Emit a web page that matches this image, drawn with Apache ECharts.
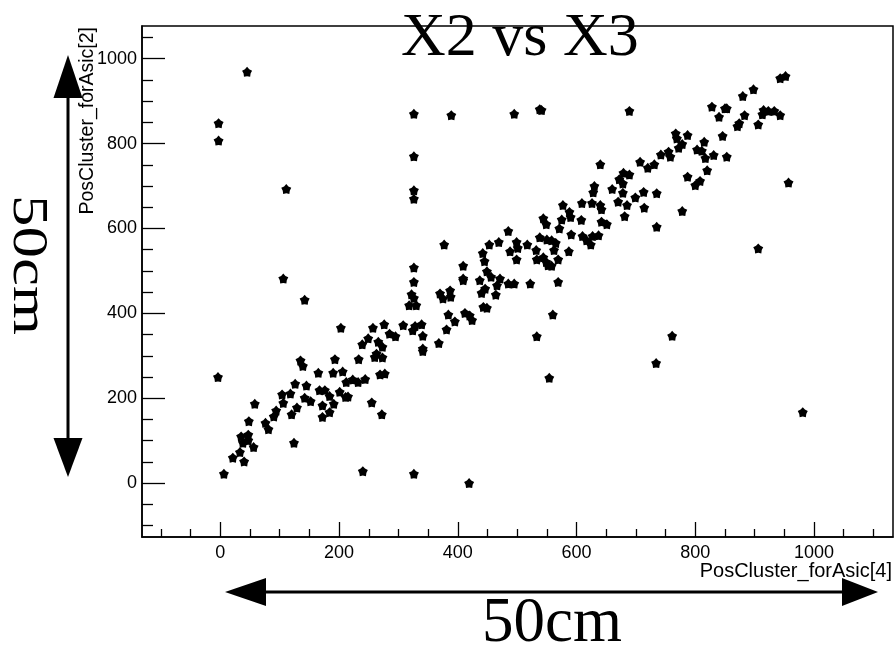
<!DOCTYPE html>
<html>
<head>
<meta charset="utf-8">
<title>X2 vs X3</title>
<script src="https://cdn.jsdelivr.net/npm/echarts@6/dist/echarts.min.js"></script>
<style>
  html, body { margin: 0; padding: 0; background: #fff; }
  #chart { width: 894px; height: 648px; }
</style>
</head>
<body>
<div id="chart"></div>
<script>
// Cluster positions: ASIC 4 (horizontal) against ASIC 2 (vertical)
const posX4 = [
  45, -3, -3, 111, 326, 326, 326, 326,
  389, 495, 541, 538, 689, 767, 769, 787, 778, 772, 742, 755, 758, 803, 787, 800,
  707, 720, 731, 640, 679, 689, 672, 678, 630, 660, 628, 678, 713, 735, 699,
  943, 952, 898, 880, 828, 850, 853, 840, 883, 915, 923, 933, 943, 913, 874, 871, 906,
  846, 815, 811, 817, 831, 853, 820, 808, 957, 906,
  577, 609, 626, 640, 642, 670, 685, 714, 778, 681, 735, 588, 590, 544, 549, 575, 571,
  608, 642, 651, 637, 627, 610, 617, 624, 591, 587, 538, 550, 558, 565, 562, 485, 469,
  453, 499, 501, 488, 517, 532, 499, 533, 544, 549, 552, 558, 569, 442, 445, 409, 377,
  409, 409, 449, 456, 471, 466, 437, 446, 440, 464, 485, 495, 522, 569, 370, 387, 388,
  375, 443, 449, 384, 395, 381, 412, 420, 424, 339, 341, 341, 368, 560, 533, 554, 761, 734,
  326, 326, 322, 326, 318, 330, 328, 324, 308, 341, 106, 142, -4, 203, 257, 276, 285,
  295, 249, 239, 266, 273, 263, 260, 273, 233, 193, 135, 139, 165, 190, 206, 269, 277,
  223, 244,
  6, 21, 40, 33, 35, 47, 38, 47, 56, 48, 58, 76, 81, 90, 94, 104, 106, 118, 120, 129,
  124, 126, 145, 142, 152, 167, 176, 184, 191, 184, 172, 172, 201, 211, 215, 212, 232,
  240, 255, 272, 326,
  419, 981
];
const posY2 = [
  969, 848, 807, 693, 870, 770, 690, 670,
  867, 870, 879, 881, 877, 824, 812, 820, 799, 790, 774, 781, 769, 786, 722, 702,
  757, 743, 751, 751, 731, 727, 716, 706, 700, 693, 685, 684, 686, 683, 673,
  954, 959, 928, 912, 887, 883, 883, 863, 867, 879, 877, 877, 867, 869, 848, 841, 845,
  818, 804, 783, 766, 773, 769, 737, 712, 708, 553,
  655, 660, 660, 655, 645, 663, 655, 649, 641, 629, 604, 639, 627, 624, 610, 621, 600,
  620, 616, 610, 584, 582, 582, 572, 562, 586, 546, 579, 574, 572, 566, 549, 594, 568,
  562, 568, 554, 546, 562, 549, 527, 527, 532, 521, 513, 512, 527, 542, 523, 512, 562,
  482, 478, 499, 486, 482, 466, 478, 458, 448, 444, 470, 470, 470, 474, 447, 454, 439,
  435, 415, 413, 397, 381, 362, 401, 395, 384, 374, 347, 317, 330, 397, 346, 248, 347, 283,
  508, 474, 445, 436, 419, 419, 370, 360, 372, 311, 482, 432, 250, 366, 366, 374, 352,
  346, 341, 327, 333, 321, 305, 297, 296, 292, 292, 289, 276, 260, 260, 263, 256, 258,
  244, 245,
  22, 60, 51, 73, 110, 114, 95, 101, 85, 146, 187, 142, 127, 157, 171, 209, 189, 211, 162, 178,
  95, 234, 230, 201, 193, 219, 219, 205, 187, 167, 156, 183, 215, 203, 204, 238, 238,
  28, 190, 162, 22,
  0, 167
];

// Axis ticks and labels
const xMajorTicks = [0, 200, 400, 600, 800, 1000];
const xMinorTicks = [-100, -50, 50, 100, 150, 250, 300, 350, 450, 500, 550, 650, 700, 750, 850, 900, 950, 1050, 1100];
const yMajorTicks = [0, 200, 400, 600, 800, 1000];
const yMinorTicks = [-100, -50, 50, 100, 150, 250, 300, 350, 450, 500, 550, 650, 700, 750, 850, 900, 950, 1050];

const xTitle = 'PosCluster_forAsic[4]';
const yTitle = 'PosCluster_forAsic[2]';
const lengthNote = '50cm';

const xRange = [-132, 1133];
const yRange = [-127, 1077];

const points = posX4.map((x, i) => [x, posY2[i]]);

const starPath = 'path://M0,-10 L4.11,-5.66 L9.51,-3.09 L6.66,2.16 L5.88,8.09 L0,7 L-5.88,8.09 L-6.66,2.16 L-9.51,-3.09 L-4.11,-5.66 Z';

const labelFont = 'Liberation Sans, Arial, Helvetica, sans-serif';
const serifFont = 'Liberation Serif, Times New Roman, serif';

const chart = echarts.init(document.getElementById('chart'), null, { renderer: 'canvas' });

const plainNumber = v => String(v);

chart.setOption({
  animation: false,
  backgroundColor: '#fff',
  title: {
    text: 'X2 vs X3',
    left: 396,
    top: 3,
    textStyle: { fontFamily: serifFont, fontSize: 62, fontWeight: 'normal', color: '#000' }
  },
  grid: {
    left: 142, top: 26, right: 1, bottom: 111,
    show: true, borderColor: '#000', borderWidth: 1.5, backgroundColor: 'transparent',
    outerBoundsMode: 'none'
  },
  xAxis: [
    {
      type: 'value', min: xRange[0], max: xRange[1], position: 'bottom',
      splitLine: { show: false },
      axisLine: { show: true, onZero: false, lineStyle: { color: '#000', width: 1.5 } },
      axisTick: { show: true, inside: true, length: 15, customValues: xMajorTicks, lineStyle: { color: '#000', width: 1.3 } },
      axisLabel: { show: true, customValues: xMajorTicks, formatter: plainNumber, fontSize: 18, color: '#000', fontFamily: labelFont, margin: 7 }
    },
    {
      type: 'value', min: xRange[0], max: xRange[1], position: 'bottom',
      splitLine: { show: false },
      axisLine: { show: false, onZero: false },
      axisTick: { show: true, inside: true, length: 8, customValues: xMinorTicks, lineStyle: { color: '#000', width: 1.3 } },
      axisLabel: { show: false }
    }
  ],
  yAxis: [
    {
      type: 'value', min: yRange[0], max: yRange[1], position: 'left',
      splitLine: { show: false },
      axisLine: { show: true, onZero: false, lineStyle: { color: '#000', width: 1.5 } },
      axisTick: { show: true, inside: true, length: 23, customValues: yMajorTicks, lineStyle: { color: '#000', width: 1.3 } },
      axisLabel: { show: true, customValues: yMajorTicks, formatter: plainNumber, fontSize: 18, color: '#000', fontFamily: labelFont, margin: 5 }
    },
    {
      type: 'value', min: yRange[0], max: yRange[1], position: 'left',
      splitLine: { show: false },
      axisLine: { show: false, onZero: false },
      axisTick: { show: true, inside: true, length: 11, customValues: yMinorTicks, lineStyle: { color: '#000', width: 1.3 } },
      axisLabel: { show: false }
    }
  ],
  series: [
    {
      type: 'scatter',
      xAxisIndex: 0,
      yAxisIndex: 0,
      data: points,
      symbol: starPath,
      symbolSize: 10,
      itemStyle: { color: '#000', opacity: 1 },
      silent: true
    }
  ],
  graphic: [
    // axis titles, right-aligned to the frame ends
    {
      type: 'text', x: 892, y: 561,
      style: { text: xTitle, font: '20px "Liberation Sans"', fill: '#000', align: 'right', verticalAlign: 'top' }
    },
    {
      type: 'text', x: 88, y: 27, rotation: Math.PI / 2,
      style: { text: yTitle, font: '19.5px "Liberation Sans"', fill: '#000', align: 'right', verticalAlign: 'middle' }
    },
    // vertical double arrow with its length note
    { type: 'line', shape: { x1: 68, y1: 92, x2: 68, y2: 444 }, style: { stroke: '#000', lineWidth: 3 } },
    { type: 'polygon', shape: { points: [[68, 55], [53.5, 98], [82.5, 98]] }, style: { fill: '#000' } },
    { type: 'polygon', shape: { points: [[68, 477], [53.5, 438], [82.5, 438]] }, style: { fill: '#000' } },
    {
      type: 'text', x: 27, y: 265, rotation: -Math.PI / 2, scaleY: 0.8,
      style: { text: lengthNote, font: '63px "Liberation Serif"', fill: '#000', align: 'center', verticalAlign: 'middle' }
    },
    // horizontal double arrow with its length note
    { type: 'line', shape: { x1: 258, y1: 592, x2: 848, y2: 592 }, style: { stroke: '#000', lineWidth: 3 } },
    { type: 'polygon', shape: { points: [[225, 592], [266, 578], [266, 606]] }, style: { fill: '#000' } },
    { type: 'polygon', shape: { points: [[878, 592], [842, 578], [842, 606]] }, style: { fill: '#000' } },
    {
      type: 'text', x: 552, y: 624,
      style: { text: lengthNote, font: '63px "Liberation Serif"', fill: '#000', align: 'center', verticalAlign: 'middle' }
    }
  ]
});
</script>
</body>
</html>
